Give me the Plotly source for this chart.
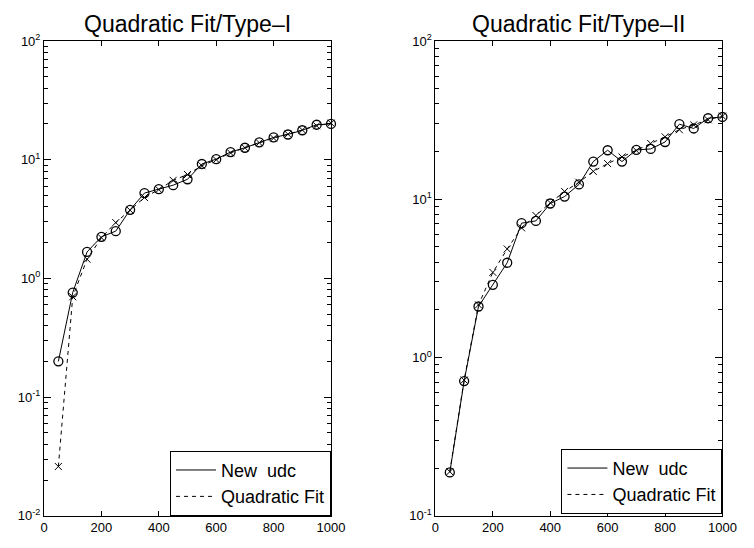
import plotly.graph_objects as go

n_vals = [50, 100, 150, 200, 250, 300, 350, 400, 450, 500,
          550, 600, 650, 700, 750, 800, 850, 900, 950, 1000]

# Type-I
udc_1 = [0.20, 0.76, 1.67, 2.24, 2.50, 3.78, 5.23, 5.64, 6.10, 6.84,
         9.2, 10.1, 11.6, 12.6, 14.0, 15.4, 16.3, 17.7, 19.7, 20.0]
fit_1 = [0.026, 0.70, 1.45, 2.2, 2.95, 3.75, 4.8, 5.6, 6.7, 7.5,
         8.9, 10.0, 11.4, 12.6, 13.9, 15.2, 16.4, 17.8, 19.3, 20.3]

# Type-II
udc_2 = [0.188, 0.71, 2.1, 2.88, 3.97, 7.06, 7.3, 9.4, 10.4, 12.4,
         17.3, 20.4, 17.3, 20.5, 20.8, 23.0, 29.8, 28.0, 32.5, 33.1]
fit_2 = [0.19, 0.72, 2.15, 3.45, 4.85, 6.6, 7.9, 9.5, 11.2, 12.8,
         15.0, 16.8, 18.5, 20.3, 22.5, 24.8, 27.5, 29.5, 31.8, 33.5]

titles = ["Quadratic Fit/Type\u2013I", "Quadratic Fit/Type\u2013II"]
legend_names = ["New\u00a0\u00a0udc", "Quadratic Fit"]
x_ticks = [0, 200, 400, 600, 800, 1000]
y_exp_1 = [-2, -1, 0, 1, 2]
y_exp_2 = [-1, 0, 1, 2]

FONT = "Liberation Sans, Arial, Helvetica, sans-serif"
fig = go.Figure()

panels = [
    (udc_1, fit_1, "x", "y", "legend"),
    (udc_2, fit_2, "x2", "y2", "legend2"),
]
for udc, fit, xa, ya, lg in panels:
    fig.add_trace(go.Scatter(x=n_vals, y=udc, mode="lines", name=legend_names[0],
                             line=dict(color="black", width=1), xaxis=xa, yaxis=ya,
                             legend=lg))
    fig.add_trace(go.Scatter(x=n_vals, y=fit, mode="lines", name=legend_names[1],
                             line=dict(color="black", width=1, dash="4px,4px"),
                             xaxis=xa, yaxis=ya, legend=lg))
    fig.add_trace(go.Scatter(x=n_vals, y=udc, mode="markers", showlegend=False,
                             cliponaxis=False,
                             marker=dict(symbol="circle-open", size=9, color="black",
                                         line=dict(color="black", width=1.3)),
                             xaxis=xa, yaxis=ya))
    fig.add_trace(go.Scatter(x=n_vals, y=fit, mode="markers", showlegend=False,
                             cliponaxis=False,
                             marker=dict(symbol="x-thin-open", size=7, color="black",
                                         line=dict(color="black", width=1)),
                             xaxis=xa, yaxis=ya))

W, H = 754, 548
x_dom1 = [41 / W, 335 / W]
x_dom2 = [442 / W, 736 / W]
y_dom = [1 - 523 / H, 1 - 33 / H]


def yaxis_cfg(exps):
    major = [10.0 ** e for e in exps]
    labels = ["10<sup>%d</sup>" % e for e in exps]
    minor = [k * 10.0 ** e for e in exps[:-1] for k in range(2, 10)]
    return dict(type="log", range=[exps[0], exps[-1]], tickmode="array",
                tickvals=major, ticktext=labels,
                ticks="inside", ticklen=7, tickcolor="black",
                showline=True, linecolor="black", linewidth=1, mirror="ticks",
                showgrid=False, zeroline=False,
                tickfont=dict(family=FONT, size=13, color="black"),
                minor=dict(tickmode="array", tickvals=minor, ticks="inside", ticklen=4,
                           tickwidth=1, tickcolor="black", showgrid=False))


xcommon = dict(range=[0, 1000], tickmode="array", tickvals=x_ticks, ticks="inside",
               ticklen=5, tickcolor="black", showline=True, linecolor="black",
               linewidth=1, mirror="ticks", showgrid=False, zeroline=False,
               tickfont=dict(family=FONT, size=13, color="black"))

legcommon = dict(bgcolor="white", bordercolor="black", borderwidth=1,
                 font=dict(family=FONT, size=18, color="black"),
                 xanchor="right", yanchor="bottom", tracegroupgap=0,
                 itemwidth=40)

fig.update_layout(
    width=W, height=H,
    margin=dict(l=0, r=0, t=0, b=0),
    paper_bgcolor="white", plot_bgcolor="white",
    xaxis=dict(domain=x_dom1, anchor="y", **xcommon),
    yaxis=dict(domain=y_dom, anchor="x", **yaxis_cfg(y_exp_1)),
    xaxis2=dict(domain=x_dom2, anchor="y2", **xcommon),
    yaxis2=dict(domain=y_dom, anchor="x2", **yaxis_cfg(y_exp_2)),
    legend=dict(x=x_dom1[1], y=y_dom[0], **legcommon),
    legend2=dict(x=x_dom2[1], y=y_dom[0] + 2 / H, **legcommon),
    annotations=[
        dict(text=titles[i], x=(d[0] + d[1]) / 2, y=1 - 15 / H,
             xref="paper", yref="paper", showarrow=False, xanchor="center",
             yanchor="middle", font=dict(family=FONT, size=23, color="black"))
        for i, d in enumerate([x_dom1, x_dom2])
    ],
)

fig.write_html("out.html")
